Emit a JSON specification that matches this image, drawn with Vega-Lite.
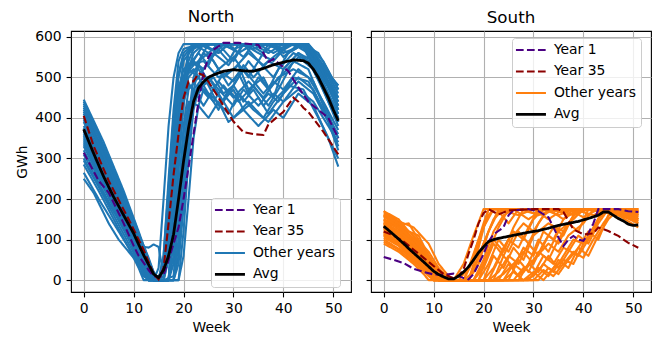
{
"$schema": "https://vega.github.io/schema/vega-lite/v6.json",
"padding": {"left": 15, "top": 8, "right": 4, "bottom": 4},
"config": {
  "font": "DejaVu Sans",
  "view": {"stroke": "black", "strokeWidth": 1.1},
  "axis": {"grid": true, "gridColor": "#b0b0b0", "gridWidth": 1.1, "domain": false, "tickColor": "black", "tickSize": 4.9, "tickWidth": 1.1, "labelFontSize": 13.9, "labelColor": "black", "labelPadding": 4.9, "titleFontSize": 13.9, "titleFontWeight": "normal", "titleColor": "black", "titlePadding": 5},
  "title": {"fontSize": 16.7, "fontWeight": "normal", "color": "black", "offset": 4.5},
  "legend": {"fillColor": "rgba(255,255,255,0.8)", "strokeColor": "#cccccc", "cornerRadius": 3, "padding": 5, "labelFontSize": 13.9, "labelColor": "black", "symbolSize": 900, "labelOffset": 16, "symbolOffset": 7, "rowPadding": 6.5}
},
"datasets": {
"north": [
{"s":"O","y":2,"w":0,"v":445},{"s":"O","y":2,"w":4,"v":340},{"s":"O","y":2,"w":8,"v":220},{"s":"O","y":2,"w":11,"v":120},{"s":"O","y":2,"w":13,"v":50},{"s":"O","y":2,"w":14,"v":15},{"s":"O","y":2,"w":15,"v":0},{"s":"O","y":2,"w":17,"v":0},{"s":"O","y":2,"w":18,"v":120},{"s":"O","y":2,"w":19,"v":300},{"s":"O","y":2,"w":20,"v":480},{"s":"O","y":2,"w":21,"v":560},{"s":"O","y":2,"w":22,"v":582},{"s":"O","y":2,"w":30,"v":582},{"s":"O","y":2,"w":36,"v":580},{"s":"O","y":2,"w":42,"v":582},{"s":"O","y":2,"w":45,"v":578},{"s":"O","y":2,"w":48,"v":520},{"s":"O","y":2,"w":51,"v":480},
{"s":"O","y":3,"w":0,"v":430},{"s":"O","y":3,"w":3,"v":355},{"s":"O","y":3,"w":7,"v":240},{"s":"O","y":3,"w":10,"v":150},{"s":"O","y":3,"w":12,"v":80},{"s":"O","y":3,"w":14,"v":20},{"s":"O","y":3,"w":15,"v":0},{"s":"O","y":3,"w":16,"v":60},{"s":"O","y":3,"w":17,"v":250},{"s":"O","y":3,"w":18,"v":420},{"s":"O","y":3,"w":19,"v":540},{"s":"O","y":3,"w":20,"v":570},{"s":"O","y":3,"w":23,"v":582},{"s":"O","y":3,"w":27,"v":560},{"s":"O","y":3,"w":29,"v":582},{"s":"O","y":3,"w":35,"v":582},{"s":"O","y":3,"w":38,"v":560},{"s":"O","y":3,"w":41,"v":582},{"s":"O","y":3,"w":45,"v":570},{"s":"O","y":3,"w":48,"v":500},{"s":"O","y":3,"w":51,"v":430},
{"s":"O","y":4,"w":0,"v":420},{"s":"O","y":4,"w":5,"v":290},{"s":"O","y":4,"w":9,"v":170},{"s":"O","y":4,"w":12,"v":70},{"s":"O","y":4,"w":14,"v":10},{"s":"O","y":4,"w":15,"v":0},{"s":"O","y":4,"w":18,"v":0},{"s":"O","y":4,"w":19,"v":90},{"s":"O","y":4,"w":20,"v":250},{"s":"O","y":4,"w":21,"v":400},{"s":"O","y":4,"w":22,"v":500},{"s":"O","y":4,"w":24,"v":560},{"s":"O","y":4,"w":26,"v":540},{"s":"O","y":4,"w":28,"v":500},{"s":"O","y":4,"w":31,"v":530},{"s":"O","y":4,"w":33,"v":470},{"s":"O","y":4,"w":36,"v":500},{"s":"O","y":4,"w":38,"v":450},{"s":"O","y":4,"w":40,"v":520},{"s":"O","y":4,"w":43,"v":560},{"s":"O","y":4,"w":46,"v":540},{"s":"O","y":4,"w":49,"v":460},{"s":"O","y":4,"w":51,"v":400},
{"s":"O","y":5,"w":0,"v":410},{"s":"O","y":5,"w":4,"v":300},{"s":"O","y":5,"w":8,"v":180},{"s":"O","y":5,"w":11,"v":90},{"s":"O","y":5,"w":13,"v":30},{"s":"O","y":5,"w":14,"v":0},{"s":"O","y":5,"w":16,"v":0},{"s":"O","y":5,"w":17,"v":150},{"s":"O","y":5,"w":18,"v":330},{"s":"O","y":5,"w":19,"v":470},{"s":"O","y":5,"w":20,"v":520},{"s":"O","y":5,"w":22,"v":540},{"s":"O","y":5,"w":25,"v":480},{"s":"O","y":5,"w":27,"v":430},{"s":"O","y":5,"w":30,"v":470},{"s":"O","y":5,"w":32,"v":420},{"s":"O","y":5,"w":35,"v":450},{"s":"O","y":5,"w":37,"v":410},{"s":"O","y":5,"w":40,"v":460},{"s":"O","y":5,"w":43,"v":500},{"s":"O","y":5,"w":46,"v":470},{"s":"O","y":5,"w":48,"v":420},{"s":"O","y":5,"w":51,"v":360},
{"s":"O","y":6,"w":0,"v":395},{"s":"O","y":6,"w":3,"v":320},{"s":"O","y":6,"w":7,"v":210},{"s":"O","y":6,"w":10,"v":120},{"s":"O","y":6,"w":11,"v":85},{"s":"O","y":6,"w":13,"v":80},{"s":"O","y":6,"w":14,"v":88},{"s":"O","y":6,"w":15,"v":82},{"s":"O","y":6,"w":16,"v":10},{"s":"O","y":6,"w":17,"v":90},{"s":"O","y":6,"w":18,"v":280},{"s":"O","y":6,"w":19,"v":450},{"s":"O","y":6,"w":20,"v":540},{"s":"O","y":6,"w":22,"v":575},{"s":"O","y":6,"w":26,"v":582},{"s":"O","y":6,"w":33,"v":582},{"s":"O","y":6,"w":37,"v":582},{"s":"O","y":6,"w":40,"v":560},{"s":"O","y":6,"w":44,"v":580},{"s":"O","y":6,"w":47,"v":530},{"s":"O","y":6,"w":51,"v":450},
{"s":"O","y":7,"w":0,"v":380},{"s":"O","y":7,"w":4,"v":280},{"s":"O","y":7,"w":8,"v":170},{"s":"O","y":7,"w":11,"v":90},{"s":"O","y":7,"w":13,"v":40},{"s":"O","y":7,"w":15,"v":0},{"s":"O","y":7,"w":17,"v":0},{"s":"O","y":7,"w":18,"v":40},{"s":"O","y":7,"w":19,"v":200},{"s":"O","y":7,"w":20,"v":380},{"s":"O","y":7,"w":21,"v":470},{"s":"O","y":7,"w":23,"v":500},{"s":"O","y":7,"w":25,"v":460},{"s":"O","y":7,"w":27,"v":420},{"s":"O","y":7,"w":29,"v":470},{"s":"O","y":7,"w":31,"v":440},{"s":"O","y":7,"w":34,"v":480},{"s":"O","y":7,"w":37,"v":430},{"s":"O","y":7,"w":39,"v":470},{"s":"O","y":7,"w":42,"v":540},{"s":"O","y":7,"w":45,"v":520},{"s":"O","y":7,"w":48,"v":430},{"s":"O","y":7,"w":51,"v":330},
{"s":"O","y":8,"w":0,"v":365},{"s":"O","y":8,"w":3,"v":300},{"s":"O","y":8,"w":6,"v":220},{"s":"O","y":8,"w":9,"v":130},{"s":"O","y":8,"w":12,"v":40},{"s":"O","y":8,"w":13,"v":10},{"s":"O","y":8,"w":15,"v":0},{"s":"O","y":8,"w":19,"v":0},{"s":"O","y":8,"w":20,"v":120},{"s":"O","y":8,"w":21,"v":300},{"s":"O","y":8,"w":22,"v":420},{"s":"O","y":8,"w":23,"v":470},{"s":"O","y":8,"w":25,"v":500},{"s":"O","y":8,"w":28,"v":440},{"s":"O","y":8,"w":30,"v":400},{"s":"O","y":8,"w":33,"v":440},{"s":"O","y":8,"w":36,"v":400},{"s":"O","y":8,"w":38,"v":440},{"s":"O","y":8,"w":41,"v":480},{"s":"O","y":8,"w":44,"v":470},{"s":"O","y":8,"w":47,"v":400},{"s":"O","y":8,"w":51,"v":300},
{"s":"O","y":9,"w":0,"v":350},{"s":"O","y":9,"w":4,"v":250},{"s":"O","y":9,"w":8,"v":150},{"s":"O","y":9,"w":11,"v":60},{"s":"O","y":9,"w":13,"v":10},{"s":"O","y":9,"w":14,"v":0},{"s":"O","y":9,"w":16,"v":20},{"s":"O","y":9,"w":17,"v":200},{"s":"O","y":9,"w":18,"v":380},{"s":"O","y":9,"w":19,"v":480},{"s":"O","y":9,"w":21,"v":520},{"s":"O","y":9,"w":24,"v":582},{"s":"O","y":9,"w":28,"v":582},{"s":"O","y":9,"w":31,"v":560},{"s":"O","y":9,"w":34,"v":582},{"s":"O","y":9,"w":40,"v":582},{"s":"O","y":9,"w":45,"v":582},{"s":"O","y":9,"w":48,"v":540},{"s":"O","y":9,"w":51,"v":470},
{"s":"O","y":10,"w":0,"v":340},{"s":"O","y":10,"w":4,"v":240},{"s":"O","y":10,"w":8,"v":140},{"s":"O","y":10,"w":11,"v":50},{"s":"O","y":10,"w":13,"v":0},{"s":"O","y":10,"w":15,"v":0},{"s":"O","y":10,"w":16,"v":10},{"s":"O","y":10,"w":17,"v":120},{"s":"O","y":10,"w":18,"v":290},{"s":"O","y":10,"w":19,"v":420},{"s":"O","y":10,"w":20,"v":500},{"s":"O","y":10,"w":22,"v":530},{"s":"O","y":10,"w":25,"v":560},{"s":"O","y":10,"w":27,"v":520},{"s":"O","y":10,"w":30,"v":550},{"s":"O","y":10,"w":33,"v":500},{"s":"O","y":10,"w":35,"v":540},{"s":"O","y":10,"w":38,"v":500},{"s":"O","y":10,"w":41,"v":560},{"s":"O","y":10,"w":44,"v":582},{"s":"O","y":10,"w":47,"v":540},{"s":"O","y":10,"w":51,"v":440},
{"s":"O","y":11,"w":0,"v":330},{"s":"O","y":11,"w":3,"v":260},{"s":"O","y":11,"w":7,"v":160},{"s":"O","y":11,"w":10,"v":90},{"s":"O","y":11,"w":12,"v":40},{"s":"O","y":11,"w":13,"v":0},{"s":"O","y":11,"w":16,"v":0},{"s":"O","y":11,"w":18,"v":10},{"s":"O","y":11,"w":19,"v":150},{"s":"O","y":11,"w":20,"v":320},{"s":"O","y":11,"w":21,"v":430},{"s":"O","y":11,"w":23,"v":480},{"s":"O","y":11,"w":26,"v":450},{"s":"O","y":11,"w":29,"v":410},{"s":"O","y":11,"w":31,"v":460},{"s":"O","y":11,"w":34,"v":420},{"s":"O","y":11,"w":37,"v":390},{"s":"O","y":11,"w":40,"v":440},{"s":"O","y":11,"w":43,"v":470},{"s":"O","y":11,"w":46,"v":440},{"s":"O","y":11,"w":49,"v":380},{"s":"O","y":11,"w":51,"v":340},
{"s":"O","y":12,"w":0,"v":310},{"s":"O","y":12,"w":3,"v":240},{"s":"O","y":12,"w":6,"v":170},{"s":"O","y":12,"w":9,"v":100},{"s":"O","y":12,"w":11,"v":50},{"s":"O","y":12,"w":12,"v":10},{"s":"O","y":12,"w":13,"v":0},{"s":"O","y":12,"w":15,"v":0},{"s":"O","y":12,"w":16,"v":60},{"s":"O","y":12,"w":17,"v":230},{"s":"O","y":12,"w":18,"v":400},{"s":"O","y":12,"w":19,"v":510},{"s":"O","y":12,"w":20,"v":560},{"s":"O","y":12,"w":22,"v":582},{"s":"O","y":12,"w":27,"v":582},{"s":"O","y":12,"w":30,"v":570},{"s":"O","y":12,"w":33,"v":582},{"s":"O","y":12,"w":43,"v":582},{"s":"O","y":12,"w":46,"v":560},{"s":"O","y":12,"w":49,"v":500},{"s":"O","y":12,"w":51,"v":450},
{"s":"O","y":13,"w":0,"v":300},{"s":"O","y":13,"w":4,"v":210},{"s":"O","y":13,"w":8,"v":130},{"s":"O","y":13,"w":10,"v":80},{"s":"O","y":13,"w":12,"v":30},{"s":"O","y":13,"w":13,"v":0},{"s":"O","y":13,"w":17,"v":0},{"s":"O","y":13,"w":18,"v":60},{"s":"O","y":13,"w":19,"v":220},{"s":"O","y":13,"w":20,"v":360},{"s":"O","y":13,"w":21,"v":440},{"s":"O","y":13,"w":23,"v":430},{"s":"O","y":13,"w":25,"v":400},{"s":"O","y":13,"w":27,"v":440},{"s":"O","y":13,"w":29,"v":390},{"s":"O","y":13,"w":32,"v":420},{"s":"O","y":13,"w":35,"v":380},{"s":"O","y":13,"w":38,"v":420},{"s":"O","y":13,"w":40,"v":400},{"s":"O","y":13,"w":43,"v":460},{"s":"O","y":13,"w":46,"v":430},{"s":"O","y":13,"w":49,"v":350},{"s":"O","y":13,"w":51,"v":280},
{"s":"O","y":14,"w":0,"v":285},{"s":"O","y":14,"w":3,"v":220},{"s":"O","y":14,"w":6,"v":150},{"s":"O","y":14,"w":9,"v":80},{"s":"O","y":14,"w":11,"v":30},{"s":"O","y":14,"w":12,"v":0},{"s":"O","y":14,"w":15,"v":0},{"s":"O","y":14,"w":16,"v":40},{"s":"O","y":14,"w":17,"v":180},{"s":"O","y":14,"w":18,"v":340},{"s":"O","y":14,"w":19,"v":450},{"s":"O","y":14,"w":21,"v":530},{"s":"O","y":14,"w":24,"v":540},{"s":"O","y":14,"w":27,"v":500},{"s":"O","y":14,"w":30,"v":520},{"s":"O","y":14,"w":33,"v":560},{"s":"O","y":14,"w":36,"v":530},{"s":"O","y":14,"w":39,"v":560},{"s":"O","y":14,"w":42,"v":582},{"s":"O","y":14,"w":45,"v":575},{"s":"O","y":14,"w":48,"v":500},{"s":"O","y":14,"w":51,"v":420},
{"s":"O","y":15,"w":0,"v":265},{"s":"O","y":15,"w":3,"v":200},{"s":"O","y":15,"w":6,"v":140},{"s":"O","y":15,"w":8,"v":100},{"s":"O","y":15,"w":10,"v":60},{"s":"O","y":15,"w":12,"v":20},{"s":"O","y":15,"w":13,"v":0},{"s":"O","y":15,"w":19,"v":0},{"s":"O","y":15,"w":20,"v":60},{"s":"O","y":15,"w":21,"v":200},{"s":"O","y":15,"w":22,"v":350},{"s":"O","y":15,"w":23,"v":430},{"s":"O","y":15,"w":24,"v":470},{"s":"O","y":15,"w":26,"v":440},{"s":"O","y":15,"w":28,"v":480},{"s":"O","y":15,"w":30,"v":450},{"s":"O","y":15,"w":33,"v":490},{"s":"O","y":15,"w":36,"v":450},{"s":"O","y":15,"w":39,"v":500},{"s":"O","y":15,"w":42,"v":520},{"s":"O","y":15,"w":45,"v":500},{"s":"O","y":15,"w":48,"v":440},{"s":"O","y":15,"w":51,"v":370},
{"s":"O","y":16,"w":0,"v":250},{"s":"O","y":16,"w":2,"v":215},{"s":"O","y":16,"w":5,"v":140},{"s":"O","y":16,"w":7,"v":100},{"s":"O","y":16,"w":9,"v":70},{"s":"O","y":16,"w":11,"v":40},{"s":"O","y":16,"w":12,"v":10},{"s":"O","y":16,"w":14,"v":0},{"s":"O","y":16,"w":16,"v":0},{"s":"O","y":16,"w":17,"v":100},{"s":"O","y":16,"w":18,"v":250},{"s":"O","y":16,"w":19,"v":400},{"s":"O","y":16,"w":20,"v":500},{"s":"O","y":16,"w":21,"v":560},{"s":"O","y":16,"w":23,"v":582},{"s":"O","y":16,"w":31,"v":582},{"s":"O","y":16,"w":34,"v":570},{"s":"O","y":16,"w":37,"v":582},{"s":"O","y":16,"w":45,"v":582},{"s":"O","y":16,"w":48,"v":530},{"s":"O","y":16,"w":51,"v":460},
{"s":"O","y":17,"w":0,"v":440},{"s":"O","y":17,"w":4,"v":330},{"s":"O","y":17,"w":8,"v":210},{"s":"O","y":17,"w":11,"v":110},{"s":"O","y":17,"w":13,"v":50},{"s":"O","y":17,"w":14,"v":10},{"s":"O","y":17,"w":15,"v":0},{"s":"O","y":17,"w":16,"v":0},{"s":"O","y":17,"w":17,"v":80},{"s":"O","y":17,"w":18,"v":260},{"s":"O","y":17,"w":19,"v":420},{"s":"O","y":17,"w":20,"v":500},{"s":"O","y":17,"w":22,"v":540},{"s":"O","y":17,"w":24,"v":520},{"s":"O","y":17,"w":26,"v":560},{"s":"O","y":17,"w":29,"v":530},{"s":"O","y":17,"w":32,"v":582},{"s":"O","y":17,"w":35,"v":560},{"s":"O","y":17,"w":38,"v":540},{"s":"O","y":17,"w":41,"v":582},{"s":"O","y":17,"w":44,"v":582},{"s":"O","y":17,"w":47,"v":540},{"s":"O","y":17,"w":51,"v":480},
{"s":"O","y":18,"w":0,"v":400},{"s":"O","y":18,"w":4,"v":290},{"s":"O","y":18,"w":8,"v":180},{"s":"O","y":18,"w":11,"v":100},{"s":"O","y":18,"w":13,"v":40},{"s":"O","y":18,"w":14,"v":0},{"s":"O","y":18,"w":17,"v":0},{"s":"O","y":18,"w":18,"v":180},{"s":"O","y":18,"w":19,"v":360},{"s":"O","y":18,"w":20,"v":470},{"s":"O","y":18,"w":21,"v":520},{"s":"O","y":18,"w":23,"v":500},{"s":"O","y":18,"w":25,"v":540},{"s":"O","y":18,"w":28,"v":582},{"s":"O","y":18,"w":32,"v":582},{"s":"O","y":18,"w":35,"v":540},{"s":"O","y":18,"w":37,"v":582},{"s":"O","y":18,"w":44,"v":582},{"s":"O","y":18,"w":47,"v":510},{"s":"O","y":18,"w":51,"v":410},
{"s":"O","y":19,"w":0,"v":355},{"s":"O","y":19,"w":3,"v":280},{"s":"O","y":19,"w":7,"v":170},{"s":"O","y":19,"w":10,"v":90},{"s":"O","y":19,"w":12,"v":30},{"s":"O","y":19,"w":13,"v":0},{"s":"O","y":19,"w":14,"v":0},{"s":"O","y":19,"w":15,"v":30},{"s":"O","y":19,"w":16,"v":200},{"s":"O","y":19,"w":17,"v":380},{"s":"O","y":19,"w":18,"v":500},{"s":"O","y":19,"w":19,"v":560},{"s":"O","y":19,"w":20,"v":582},{"s":"O","y":19,"w":26,"v":582},{"s":"O","y":19,"w":29,"v":540},{"s":"O","y":19,"w":31,"v":582},{"s":"O","y":19,"w":38,"v":582},{"s":"O","y":19,"w":40,"v":550},{"s":"O","y":19,"w":43,"v":582},{"s":"O","y":19,"w":46,"v":560},{"s":"O","y":19,"w":49,"v":480},{"s":"O","y":19,"w":51,"v":420},
{"s":"O","y":20,"w":0,"v":425},{"s":"O","y":20,"w":4,"v":315},{"s":"O","y":20,"w":8,"v":200},{"s":"O","y":20,"w":11,"v":105},{"s":"O","y":20,"w":13,"v":45},{"s":"O","y":20,"w":14,"v":12},{"s":"O","y":20,"w":15,"v":0},{"s":"O","y":20,"w":17,"v":0},{"s":"O","y":20,"w":18,"v":150},{"s":"O","y":20,"w":19,"v":330},{"s":"O","y":20,"w":20,"v":460},{"s":"O","y":20,"w":21,"v":500},{"s":"O","y":20,"w":23,"v":530},{"s":"O","y":20,"w":25,"v":490},{"s":"O","y":20,"w":27,"v":520},{"s":"O","y":20,"w":29,"v":480},{"s":"O","y":20,"w":31,"v":510},{"s":"O","y":20,"w":33,"v":460},{"s":"O","y":20,"w":35,"v":500},{"s":"O","y":20,"w":37,"v":470},{"s":"O","y":20,"w":40,"v":510},{"s":"O","y":20,"w":43,"v":550},{"s":"O","y":20,"w":46,"v":520},{"s":"O","y":20,"w":49,"v":440},{"s":"O","y":20,"w":51,"v":390},
{"s":"O","y":21,"w":0,"v":415},{"s":"O","y":21,"w":3,"v":335},{"s":"O","y":21,"w":7,"v":220},{"s":"O","y":21,"w":10,"v":130},{"s":"O","y":21,"w":12,"v":70},{"s":"O","y":21,"w":14,"v":15},{"s":"O","y":21,"w":15,"v":0},{"s":"O","y":21,"w":16,"v":30},{"s":"O","y":21,"w":17,"v":210},{"s":"O","y":21,"w":18,"v":390},{"s":"O","y":21,"w":19,"v":500},{"s":"O","y":21,"w":20,"v":550},{"s":"O","y":21,"w":22,"v":582},{"s":"O","y":21,"w":25,"v":560},{"s":"O","y":21,"w":27,"v":582},{"s":"O","y":21,"w":30,"v":540},{"s":"O","y":21,"w":32,"v":582},{"s":"O","y":21,"w":36,"v":582},{"s":"O","y":21,"w":39,"v":570},{"s":"O","y":21,"w":42,"v":582},{"s":"O","y":21,"w":45,"v":560},{"s":"O","y":21,"w":48,"v":490},{"s":"O","y":21,"w":51,"v":390},
{"s":"O","y":22,"w":0,"v":390},{"s":"O","y":22,"w":4,"v":285},{"s":"O","y":22,"w":8,"v":175},{"s":"O","y":22,"w":11,"v":95},{"s":"O","y":22,"w":13,"v":35},{"s":"O","y":22,"w":14,"v":0},{"s":"O","y":22,"w":18,"v":0},{"s":"O","y":22,"w":19,"v":60},{"s":"O","y":22,"w":20,"v":200},{"s":"O","y":22,"w":21,"v":350},{"s":"O","y":22,"w":22,"v":450},{"s":"O","y":22,"w":23,"v":480},{"s":"O","y":22,"w":25,"v":450},{"s":"O","y":22,"w":27,"v":490},{"s":"O","y":22,"w":29,"v":460},{"s":"O","y":22,"w":31,"v":500},{"s":"O","y":22,"w":33,"v":540},{"s":"O","y":22,"w":35,"v":510},{"s":"O","y":22,"w":37,"v":470},{"s":"O","y":22,"w":39,"v":520},{"s":"O","y":22,"w":42,"v":560},{"s":"O","y":22,"w":45,"v":540},{"s":"O","y":22,"w":48,"v":470},{"s":"O","y":22,"w":51,"v":380},
{"s":"O","y":23,"w":0,"v":375},{"s":"O","y":23,"w":3,"v":300},{"s":"O","y":23,"w":6,"v":225},{"s":"O","y":23,"w":9,"v":140},{"s":"O","y":23,"w":11,"v":80},{"s":"O","y":23,"w":13,"v":20},{"s":"O","y":23,"w":14,"v":0},{"s":"O","y":23,"w":17,"v":0},{"s":"O","y":23,"w":18,"v":90},{"s":"O","y":23,"w":19,"v":270},{"s":"O","y":23,"w":20,"v":430},{"s":"O","y":23,"w":21,"v":520},{"s":"O","y":23,"w":22,"v":560},{"s":"O","y":23,"w":24,"v":582},{"s":"O","y":23,"w":29,"v":582},{"s":"O","y":23,"w":32,"v":550},{"s":"O","y":23,"w":34,"v":582},{"s":"O","y":23,"w":41,"v":582},{"s":"O","y":23,"w":44,"v":575},{"s":"O","y":23,"w":47,"v":500},{"s":"O","y":23,"w":51,"v":410},
{"s":"O","y":24,"w":0,"v":360},{"s":"O","y":24,"w":4,"v":260},{"s":"O","y":24,"w":8,"v":160},{"s":"O","y":24,"w":11,"v":70},{"s":"O","y":24,"w":13,"v":15},{"s":"O","y":24,"w":14,"v":0},{"s":"O","y":24,"w":16,"v":0},{"s":"O","y":24,"w":17,"v":170},{"s":"O","y":24,"w":18,"v":350},{"s":"O","y":24,"w":19,"v":460},{"s":"O","y":24,"w":20,"v":500},{"s":"O","y":24,"w":22,"v":470},{"s":"O","y":24,"w":24,"v":430},{"s":"O","y":24,"w":26,"v":470},{"s":"O","y":24,"w":28,"v":440},{"s":"O","y":24,"w":30,"v":480},{"s":"O","y":24,"w":32,"v":520},{"s":"O","y":24,"w":34,"v":490},{"s":"O","y":24,"w":36,"v":460},{"s":"O","y":24,"w":38,"v":490},{"s":"O","y":24,"w":40,"v":470},{"s":"O","y":24,"w":43,"v":520},{"s":"O","y":24,"w":46,"v":490},{"s":"O","y":24,"w":49,"v":410},{"s":"O","y":24,"w":51,"v":350},
{"s":"O","y":25,"w":0,"v":345},{"s":"O","y":25,"w":3,"v":270},{"s":"O","y":25,"w":6,"v":200},{"s":"O","y":25,"w":9,"v":120},{"s":"O","y":25,"w":11,"v":65},{"s":"O","y":25,"w":12,"v":35},{"s":"O","y":25,"w":13,"v":0},{"s":"O","y":25,"w":16,"v":0},{"s":"O","y":25,"w":17,"v":50},{"s":"O","y":25,"w":18,"v":220},{"s":"O","y":25,"w":19,"v":390},{"s":"O","y":25,"w":20,"v":480},{"s":"O","y":25,"w":21,"v":530},{"s":"O","y":25,"w":23,"v":560},{"s":"O","y":25,"w":25,"v":530},{"s":"O","y":25,"w":27,"v":582},{"s":"O","y":25,"w":33,"v":582},{"s":"O","y":25,"w":36,"v":560},{"s":"O","y":25,"w":38,"v":582},{"s":"O","y":25,"w":44,"v":582},{"s":"O","y":25,"w":47,"v":560},{"s":"O","y":25,"w":51,"v":470},
{"s":"O","y":26,"w":0,"v":320},{"s":"O","y":26,"w":3,"v":250},{"s":"O","y":26,"w":6,"v":180},{"s":"O","y":26,"w":9,"v":110},{"s":"O","y":26,"w":11,"v":60},{"s":"O","y":26,"w":12,"v":30},{"s":"O","y":26,"w":13,"v":0},{"s":"O","y":26,"w":18,"v":0},{"s":"O","y":26,"w":19,"v":100},{"s":"O","y":26,"w":20,"v":260},{"s":"O","y":26,"w":21,"v":400},{"s":"O","y":26,"w":22,"v":470},{"s":"O","y":26,"w":24,"v":500},{"s":"O","y":26,"w":26,"v":470},{"s":"O","y":26,"w":28,"v":510},{"s":"O","y":26,"w":30,"v":490},{"s":"O","y":26,"w":32,"v":530},{"s":"O","y":26,"w":34,"v":500},{"s":"O","y":26,"w":37,"v":540},{"s":"O","y":26,"w":40,"v":520},{"s":"O","y":26,"w":43,"v":560},{"s":"O","y":26,"w":46,"v":530},{"s":"O","y":26,"w":49,"v":450},{"s":"O","y":26,"w":51,"v":400},
{"s":"O","y":27,"w":0,"v":295},{"s":"O","y":27,"w":3,"v":230},{"s":"O","y":27,"w":6,"v":160},{"s":"O","y":27,"w":9,"v":90},{"s":"O","y":27,"w":11,"v":45},{"s":"O","y":27,"w":12,"v":15},{"s":"O","y":27,"w":13,"v":0},{"s":"O","y":27,"w":16,"v":0},{"s":"O","y":27,"w":17,"v":140},{"s":"O","y":27,"w":18,"v":310},{"s":"O","y":27,"w":19,"v":440},{"s":"O","y":27,"w":20,"v":500},{"s":"O","y":27,"w":22,"v":520},{"s":"O","y":27,"w":24,"v":480},{"s":"O","y":27,"w":26,"v":500},{"s":"O","y":27,"w":28,"v":460},{"s":"O","y":27,"w":30,"v":480},{"s":"O","y":27,"w":32,"v":440},{"s":"O","y":27,"w":34,"v":470},{"s":"O","y":27,"w":36,"v":430},{"s":"O","y":27,"w":38,"v":460},{"s":"O","y":27,"w":40,"v":440},{"s":"O","y":27,"w":43,"v":490},{"s":"O","y":27,"w":46,"v":460},{"s":"O","y":27,"w":49,"v":390},{"s":"O","y":27,"w":51,"v":320},
{"s":"O","y":28,"w":0,"v":435},{"s":"O","y":28,"w":4,"v":325},{"s":"O","y":28,"w":8,"v":205},{"s":"O","y":28,"w":11,"v":115},{"s":"O","y":28,"w":13,"v":55},{"s":"O","y":28,"w":14,"v":20},{"s":"O","y":28,"w":15,"v":0},{"s":"O","y":28,"w":18,"v":0},{"s":"O","y":28,"w":19,"v":40},{"s":"O","y":28,"w":20,"v":180},{"s":"O","y":28,"w":21,"v":340},{"s":"O","y":28,"w":22,"v":460},{"s":"O","y":28,"w":23,"v":540},{"s":"O","y":28,"w":25,"v":582},{"s":"O","y":28,"w":38,"v":582},{"s":"O","y":28,"w":41,"v":560},{"s":"O","y":28,"w":44,"v":582},{"s":"O","y":28,"w":47,"v":520},{"s":"O","y":28,"w":51,"v":440},
{"s":"O","y":29,"w":0,"v":370},{"s":"O","y":29,"w":4,"v":265},{"s":"O","y":29,"w":8,"v":165},{"s":"O","y":29,"w":10,"v":120},{"s":"O","y":29,"w":12,"v":60},{"s":"O","y":29,"w":13,"v":25},{"s":"O","y":29,"w":14,"v":0},{"s":"O","y":29,"w":16,"v":0},{"s":"O","y":29,"w":17,"v":60},{"s":"O","y":29,"w":18,"v":200},{"s":"O","y":29,"w":19,"v":350},{"s":"O","y":29,"w":20,"v":440},{"s":"O","y":29,"w":21,"v":480},{"s":"O","y":29,"w":23,"v":460},{"s":"O","y":29,"w":25,"v":500},{"s":"O","y":29,"w":27,"v":470},{"s":"O","y":29,"w":30,"v":430},{"s":"O","y":29,"w":32,"v":470},{"s":"O","y":29,"w":35,"v":430},{"s":"O","y":29,"w":37,"v":460},{"s":"O","y":29,"w":39,"v":440},{"s":"O","y":29,"w":42,"v":500},{"s":"O","y":29,"w":45,"v":490},{"s":"O","y":29,"w":48,"v":420},{"s":"O","y":29,"w":51,"v":350},
{"s":"O","y":30,"w":0,"v":335},{"s":"O","y":30,"w":4,"v":230},{"s":"O","y":30,"w":8,"v":130},{"s":"O","y":30,"w":10,"v":90},{"s":"O","y":30,"w":12,"v":40},{"s":"O","y":30,"w":13,"v":10},{"s":"O","y":30,"w":14,"v":0},{"s":"O","y":30,"w":17,"v":0},{"s":"O","y":30,"w":18,"v":130},{"s":"O","y":30,"w":19,"v":320},{"s":"O","y":30,"w":20,"v":470},{"s":"O","y":30,"w":21,"v":540},{"s":"O","y":30,"w":22,"v":570},{"s":"O","y":30,"w":24,"v":582},{"s":"O","y":30,"w":27,"v":560},{"s":"O","y":30,"w":29,"v":582},{"s":"O","y":30,"w":34,"v":582},{"s":"O","y":30,"w":37,"v":560},{"s":"O","y":30,"w":40,"v":582},{"s":"O","y":30,"w":45,"v":582},{"s":"O","y":30,"w":48,"v":510},{"s":"O","y":30,"w":51,"v":430},
{"s":"Y1","y":1,"w":0,"v":314},{"s":"Y1","y":1,"w":3,"v":245},{"s":"Y1","y":1,"w":5,"v":216},{"s":"Y1","y":1,"w":8,"v":140},{"s":"Y1","y":1,"w":10,"v":85},{"s":"Y1","y":1,"w":11,"v":60},{"s":"Y1","y":1,"w":13,"v":25},{"s":"Y1","y":1,"w":14,"v":10},{"s":"Y1","y":1,"w":15,"v":8},{"s":"Y1","y":1,"w":16,"v":12},{"s":"Y1","y":1,"w":17,"v":50},{"s":"Y1","y":1,"w":18,"v":90},{"s":"Y1","y":1,"w":19,"v":130},{"s":"Y1","y":1,"w":20,"v":200},{"s":"Y1","y":1,"w":21,"v":278},{"s":"Y1","y":1,"w":22,"v":360},{"s":"Y1","y":1,"w":23,"v":440},{"s":"Y1","y":1,"w":24,"v":510},{"s":"Y1","y":1,"w":25,"v":550},{"s":"Y1","y":1,"w":26,"v":568},{"s":"Y1","y":1,"w":28,"v":585},{"s":"Y1","y":1,"w":31,"v":585},{"s":"Y1","y":1,"w":35,"v":580},{"s":"Y1","y":1,"w":36,"v":560},{"s":"Y1","y":1,"w":37,"v":538},{"s":"Y1","y":1,"w":38,"v":545},{"s":"Y1","y":1,"w":39,"v":535},{"s":"Y1","y":1,"w":40,"v":525},{"s":"Y1","y":1,"w":41,"v":515},{"s":"Y1","y":1,"w":42,"v":495},{"s":"Y1","y":1,"w":43,"v":475},{"s":"Y1","y":1,"w":44,"v":458},{"s":"Y1","y":1,"w":45,"v":440},{"s":"Y1","y":1,"w":47,"v":420},{"s":"Y1","y":1,"w":49,"v":400},{"s":"Y1","y":1,"w":51,"v":350},
{"s":"Y35","y":35,"w":0,"v":405},{"s":"Y35","y":35,"w":2,"v":330},{"s":"Y35","y":35,"w":5,"v":245},{"s":"Y35","y":35,"w":9,"v":150},{"s":"Y35","y":35,"w":12,"v":75},{"s":"Y35","y":35,"w":13,"v":45},{"s":"Y35","y":35,"w":14,"v":15},{"s":"Y35","y":35,"w":15,"v":2},{"s":"Y35","y":35,"w":16,"v":30},{"s":"Y35","y":35,"w":17,"v":140},{"s":"Y35","y":35,"w":18,"v":260},{"s":"Y35","y":35,"w":19,"v":360},{"s":"Y35","y":35,"w":20,"v":450},{"s":"Y35","y":35,"w":21,"v":490},{"s":"Y35","y":35,"w":22,"v":490},{"s":"Y35","y":35,"w":23,"v":510},{"s":"Y35","y":35,"w":24,"v":505},{"s":"Y35","y":35,"w":25,"v":489},{"s":"Y35","y":35,"w":27,"v":450},{"s":"Y35","y":35,"w":30,"v":391},{"s":"Y35","y":35,"w":32,"v":365},{"s":"Y35","y":35,"w":34,"v":360},{"s":"Y35","y":35,"w":36,"v":358},{"s":"Y35","y":35,"w":37,"v":384},{"s":"Y35","y":35,"w":40,"v":415},{"s":"Y35","y":35,"w":42,"v":450},{"s":"Y35","y":35,"w":43,"v":440},{"s":"Y35","y":35,"w":44,"v":425},{"s":"Y35","y":35,"w":45,"v":415},{"s":"Y35","y":35,"w":48,"v":366},{"s":"Y35","y":35,"w":51,"v":310},
{"s":"A","y":0,"w":0,"v":372},{"s":"A","y":0,"w":2,"v":312},{"s":"A","y":0,"w":4,"v":255},{"s":"A","y":0,"w":6,"v":205},{"s":"A","y":0,"w":8,"v":160},{"s":"A","y":0,"w":10,"v":115},{"s":"A","y":0,"w":11,"v":88},{"s":"A","y":0,"w":12,"v":62},{"s":"A","y":0,"w":13,"v":38},{"s":"A","y":0,"w":14,"v":15},{"s":"A","y":0,"w":15,"v":6},{"s":"A","y":0,"w":16,"v":25},{"s":"A","y":0,"w":17,"v":60},{"s":"A","y":0,"w":18,"v":113},{"s":"A","y":0,"w":19,"v":200},{"s":"A","y":0,"w":20,"v":293},{"s":"A","y":0,"w":21,"v":375},{"s":"A","y":0,"w":22,"v":440},{"s":"A","y":0,"w":23,"v":474},{"s":"A","y":0,"w":24,"v":489},{"s":"A","y":0,"w":25,"v":500},{"s":"A","y":0,"w":26,"v":506},{"s":"A","y":0,"w":28,"v":515},{"s":"A","y":0,"w":30,"v":519},{"s":"A","y":0,"w":32,"v":516},{"s":"A","y":0,"w":34,"v":515},{"s":"A","y":0,"w":36,"v":522},{"s":"A","y":0,"w":38,"v":531},{"s":"A","y":0,"w":40,"v":537},{"s":"A","y":0,"w":42,"v":543},{"s":"A","y":0,"w":44,"v":541},{"s":"A","y":0,"w":45,"v":535},{"s":"A","y":0,"w":46,"v":520},{"s":"A","y":0,"w":47,"v":500},{"s":"A","y":0,"w":48,"v":475},{"s":"A","y":0,"w":49,"v":450},{"s":"A","y":0,"w":50,"v":420},{"s":"A","y":0,"w":51,"v":393}
],
"south": [
{"s":"O","y":2,"w":0,"v":170},{"s":"O","y":2,"w":3,"v":140},{"s":"O","y":2,"w":6,"v":100},{"s":"O","y":2,"w":8,"v":60},{"s":"O","y":2,"w":10,"v":20},{"s":"O","y":2,"w":11,"v":0},{"s":"O","y":2,"w":16,"v":0},{"s":"O","y":2,"w":18,"v":60},{"s":"O","y":2,"w":20,"v":140},{"s":"O","y":2,"w":21,"v":175},{"s":"O","y":2,"w":30,"v":175},{"s":"O","y":2,"w":40,"v":175},{"s":"O","y":2,"w":46,"v":175},{"s":"O","y":2,"w":49,"v":165},{"s":"O","y":2,"w":51,"v":150},
{"s":"O","y":3,"w":0,"v":160},{"s":"O","y":3,"w":2,"v":150},{"s":"O","y":3,"w":4,"v":120},{"s":"O","y":3,"w":7,"v":90},{"s":"O","y":3,"w":9,"v":50},{"s":"O","y":3,"w":11,"v":10},{"s":"O","y":3,"w":12,"v":0},{"s":"O","y":3,"w":17,"v":0},{"s":"O","y":3,"w":19,"v":40},{"s":"O","y":3,"w":21,"v":120},{"s":"O","y":3,"w":23,"v":175},{"s":"O","y":3,"w":27,"v":160},{"s":"O","y":3,"w":30,"v":175},{"s":"O","y":3,"w":35,"v":170},{"s":"O","y":3,"w":40,"v":175},{"s":"O","y":3,"w":45,"v":175},{"s":"O","y":3,"w":51,"v":160},
{"s":"O","y":4,"w":0,"v":150},{"s":"O","y":4,"w":3,"v":130},{"s":"O","y":4,"w":6,"v":85},{"s":"O","y":4,"w":9,"v":40},{"s":"O","y":4,"w":11,"v":5},{"s":"O","y":4,"w":12,"v":0},{"s":"O","y":4,"w":20,"v":0},{"s":"O","y":4,"w":22,"v":30},{"s":"O","y":4,"w":24,"v":80},{"s":"O","y":4,"w":26,"v":120},{"s":"O","y":4,"w":28,"v":100},{"s":"O","y":4,"w":30,"v":150},{"s":"O","y":4,"w":32,"v":175},{"s":"O","y":4,"w":38,"v":175},{"s":"O","y":4,"w":42,"v":160},{"s":"O","y":4,"w":45,"v":175},{"s":"O","y":4,"w":51,"v":140},
{"s":"O","y":5,"w":0,"v":145},{"s":"O","y":5,"w":4,"v":110},{"s":"O","y":5,"w":7,"v":70},{"s":"O","y":5,"w":10,"v":20},{"s":"O","y":5,"w":12,"v":0},{"s":"O","y":5,"w":24,"v":0},{"s":"O","y":5,"w":26,"v":20},{"s":"O","y":5,"w":28,"v":0},{"s":"O","y":5,"w":30,"v":10},{"s":"O","y":5,"w":32,"v":40},{"s":"O","y":5,"w":34,"v":20},{"s":"O","y":5,"w":36,"v":60},{"s":"O","y":5,"w":38,"v":100},{"s":"O","y":5,"w":40,"v":90},{"s":"O","y":5,"w":42,"v":130},{"s":"O","y":5,"w":44,"v":175},{"s":"O","y":5,"w":48,"v":175},{"s":"O","y":5,"w":51,"v":170},
{"s":"O","y":6,"w":0,"v":140},{"s":"O","y":6,"w":2,"v":120},{"s":"O","y":6,"w":5,"v":100},{"s":"O","y":6,"w":8,"v":60},{"s":"O","y":6,"w":10,"v":25},{"s":"O","y":6,"w":12,"v":5},{"s":"O","y":6,"w":13,"v":0},{"s":"O","y":6,"w":18,"v":0},{"s":"O","y":6,"w":20,"v":50},{"s":"O","y":6,"w":22,"v":120},{"s":"O","y":6,"w":24,"v":160},{"s":"O","y":6,"w":26,"v":175},{"s":"O","y":6,"w":33,"v":175},{"s":"O","y":6,"w":36,"v":150},{"s":"O","y":6,"w":39,"v":175},{"s":"O","y":6,"w":45,"v":175},{"s":"O","y":6,"w":51,"v":150},
{"s":"O","y":7,"w":0,"v":135},{"s":"O","y":7,"w":3,"v":110},{"s":"O","y":7,"w":6,"v":75},{"s":"O","y":7,"w":9,"v":30},{"s":"O","y":7,"w":11,"v":0},{"s":"O","y":7,"w":22,"v":0},{"s":"O","y":7,"w":24,"v":15},{"s":"O","y":7,"w":26,"v":40},{"s":"O","y":7,"w":28,"v":20},{"s":"O","y":7,"w":30,"v":50},{"s":"O","y":7,"w":33,"v":90},{"s":"O","y":7,"w":35,"v":70},{"s":"O","y":7,"w":37,"v":110},{"s":"O","y":7,"w":40,"v":140},{"s":"O","y":7,"w":42,"v":175},{"s":"O","y":7,"w":51,"v":165},
{"s":"O","y":8,"w":0,"v":130},{"s":"O","y":8,"w":4,"v":100},{"s":"O","y":8,"w":8,"v":50},{"s":"O","y":8,"w":10,"v":15},{"s":"O","y":8,"w":12,"v":0},{"s":"O","y":8,"w":15,"v":0},{"s":"O","y":8,"w":17,"v":30},{"s":"O","y":8,"w":19,"v":100},{"s":"O","y":8,"w":21,"v":160},{"s":"O","y":8,"w":22,"v":175},{"s":"O","y":8,"w":28,"v":175},{"s":"O","y":8,"w":31,"v":160},{"s":"O","y":8,"w":34,"v":175},{"s":"O","y":8,"w":44,"v":175},{"s":"O","y":8,"w":48,"v":175},{"s":"O","y":8,"w":51,"v":160},
{"s":"O","y":9,"w":0,"v":125},{"s":"O","y":9,"w":3,"v":100},{"s":"O","y":9,"w":6,"v":60},{"s":"O","y":9,"w":9,"v":20},{"s":"O","y":9,"w":11,"v":0},{"s":"O","y":9,"w":26,"v":0},{"s":"O","y":9,"w":28,"v":30},{"s":"O","y":9,"w":30,"v":15},{"s":"O","y":9,"w":32,"v":60},{"s":"O","y":9,"w":34,"v":40},{"s":"O","y":9,"w":36,"v":80},{"s":"O","y":9,"w":39,"v":60},{"s":"O","y":9,"w":41,"v":100},{"s":"O","y":9,"w":43,"v":150},{"s":"O","y":9,"w":45,"v":175},{"s":"O","y":9,"w":51,"v":175},
{"s":"O","y":10,"w":0,"v":120},{"s":"O","y":10,"w":4,"v":85},{"s":"O","y":10,"w":7,"v":50},{"s":"O","y":10,"w":10,"v":10},{"s":"O","y":10,"w":11,"v":0},{"s":"O","y":10,"w":19,"v":0},{"s":"O","y":10,"w":21,"v":40},{"s":"O","y":10,"w":23,"v":100},{"s":"O","y":10,"w":25,"v":70},{"s":"O","y":10,"w":27,"v":120},{"s":"O","y":10,"w":29,"v":90},{"s":"O","y":10,"w":31,"v":140},{"s":"O","y":10,"w":33,"v":175},{"s":"O","y":10,"w":40,"v":175},{"s":"O","y":10,"w":46,"v":170},{"s":"O","y":10,"w":51,"v":140},
{"s":"O","y":11,"w":0,"v":115},{"s":"O","y":11,"w":3,"v":90},{"s":"O","y":11,"w":6,"v":55},{"s":"O","y":11,"w":8,"v":30},{"s":"O","y":11,"w":10,"v":0},{"s":"O","y":11,"w":20,"v":0},{"s":"O","y":11,"w":22,"v":60},{"s":"O","y":11,"w":24,"v":30},{"s":"O","y":11,"w":26,"v":80},{"s":"O","y":11,"w":28,"v":50},{"s":"O","y":11,"w":30,"v":110},{"s":"O","y":11,"w":33,"v":140},{"s":"O","y":11,"w":36,"v":120},{"s":"O","y":11,"w":39,"v":175},{"s":"O","y":11,"w":51,"v":175},
{"s":"O","y":12,"w":0,"v":110},{"s":"O","y":12,"w":3,"v":85},{"s":"O","y":12,"w":6,"v":50},{"s":"O","y":12,"w":9,"v":15},{"s":"O","y":12,"w":10,"v":0},{"s":"O","y":12,"w":28,"v":0},{"s":"O","y":12,"w":30,"v":20},{"s":"O","y":12,"w":32,"v":0},{"s":"O","y":12,"w":34,"v":30},{"s":"O","y":12,"w":36,"v":50},{"s":"O","y":12,"w":38,"v":40},{"s":"O","y":12,"w":40,"v":90},{"s":"O","y":12,"w":42,"v":120},{"s":"O","y":12,"w":44,"v":175},{"s":"O","y":12,"w":51,"v":170},
{"s":"O","y":13,"w":0,"v":100},{"s":"O","y":13,"w":4,"v":70},{"s":"O","y":13,"w":8,"v":30},{"s":"O","y":13,"w":10,"v":5},{"s":"O","y":13,"w":11,"v":0},{"s":"O","y":13,"w":16,"v":0},{"s":"O","y":13,"w":18,"v":50},{"s":"O","y":13,"w":20,"v":130},{"s":"O","y":13,"w":22,"v":175},{"s":"O","y":13,"w":26,"v":175},{"s":"O","y":13,"w":29,"v":150},{"s":"O","y":13,"w":32,"v":175},{"s":"O","y":13,"w":42,"v":175},{"s":"O","y":13,"w":47,"v":160},{"s":"O","y":13,"w":51,"v":130},
{"s":"O","y":14,"w":0,"v":95},{"s":"O","y":14,"w":3,"v":75},{"s":"O","y":14,"w":6,"v":45},{"s":"O","y":14,"w":9,"v":10},{"s":"O","y":14,"w":10,"v":0},{"s":"O","y":14,"w":23,"v":0},{"s":"O","y":14,"w":25,"v":40},{"s":"O","y":14,"w":27,"v":10},{"s":"O","y":14,"w":29,"v":40},{"s":"O","y":14,"w":31,"v":100},{"s":"O","y":14,"w":33,"v":70},{"s":"O","y":14,"w":35,"v":120},{"s":"O","y":14,"w":38,"v":150},{"s":"O","y":14,"w":40,"v":175},{"s":"O","y":14,"w":51,"v":160},
{"s":"O","y":15,"w":0,"v":155},{"s":"O","y":15,"w":3,"v":145},{"s":"O","y":15,"w":6,"v":130},{"s":"O","y":15,"w":9,"v":90},{"s":"O","y":15,"w":11,"v":40},{"s":"O","y":15,"w":13,"v":10},{"s":"O","y":15,"w":14,"v":0},{"s":"O","y":15,"w":17,"v":0},{"s":"O","y":15,"w":19,"v":80},{"s":"O","y":15,"w":21,"v":175},{"s":"O","y":15,"w":30,"v":175},{"s":"O","y":15,"w":36,"v":175},{"s":"O","y":15,"w":43,"v":175},{"s":"O","y":15,"w":51,"v":155},
{"s":"O","y":16,"w":0,"v":165},{"s":"O","y":16,"w":2,"v":155},{"s":"O","y":16,"w":5,"v":120},{"s":"O","y":16,"w":7,"v":110},{"s":"O","y":16,"w":9,"v":60},{"s":"O","y":16,"w":11,"v":20},{"s":"O","y":16,"w":13,"v":0},{"s":"O","y":16,"w":21,"v":0},{"s":"O","y":16,"w":23,"v":50},{"s":"O","y":16,"w":25,"v":100},{"s":"O","y":16,"w":27,"v":80},{"s":"O","y":16,"w":29,"v":130},{"s":"O","y":16,"w":31,"v":175},{"s":"O","y":16,"w":37,"v":175},{"s":"O","y":16,"w":40,"v":155},{"s":"O","y":16,"w":43,"v":175},{"s":"O","y":16,"w":51,"v":145},
{"s":"O","y":17,"w":0,"v":90},{"s":"O","y":17,"w":3,"v":70},{"s":"O","y":17,"w":6,"v":40},{"s":"O","y":17,"w":8,"v":15},{"s":"O","y":17,"w":9,"v":0},{"s":"O","y":17,"w":30,"v":0},{"s":"O","y":17,"w":32,"v":25},{"s":"O","y":17,"w":34,"v":10},{"s":"O","y":17,"w":36,"v":40},{"s":"O","y":17,"w":38,"v":70},{"s":"O","y":17,"w":40,"v":55},{"s":"O","y":17,"w":42,"v":100},{"s":"O","y":17,"w":44,"v":140},{"s":"O","y":17,"w":46,"v":175},{"s":"O","y":17,"w":51,"v":165},
{"s":"O","y":18,"w":0,"v":150},{"s":"O","y":18,"w":3,"v":135},{"s":"O","y":18,"w":5,"v":140},{"s":"O","y":18,"w":7,"v":100},{"s":"O","y":18,"w":10,"v":40},{"s":"O","y":18,"w":12,"v":10},{"s":"O","y":18,"w":13,"v":0},{"s":"O","y":18,"w":18,"v":0},{"s":"O","y":18,"w":20,"v":30},{"s":"O","y":18,"w":22,"v":90},{"s":"O","y":18,"w":24,"v":60},{"s":"O","y":18,"w":26,"v":110},{"s":"O","y":18,"w":28,"v":140},{"s":"O","y":18,"w":30,"v":120},{"s":"O","y":18,"w":32,"v":160},{"s":"O","y":18,"w":34,"v":175},{"s":"O","y":18,"w":48,"v":175},{"s":"O","y":18,"w":51,"v":150},
{"s":"O","y":19,"w":0,"v":160},{"s":"O","y":19,"w":4,"v":125},{"s":"O","y":19,"w":8,"v":70},{"s":"O","y":19,"w":11,"v":20},{"s":"O","y":19,"w":12,"v":0},{"s":"O","y":19,"w":25,"v":0},{"s":"O","y":19,"w":27,"v":50},{"s":"O","y":19,"w":29,"v":20},{"s":"O","y":19,"w":31,"v":70},{"s":"O","y":19,"w":33,"v":50},{"s":"O","y":19,"w":35,"v":100},{"s":"O","y":19,"w":37,"v":140},{"s":"O","y":19,"w":39,"v":120},{"s":"O","y":19,"w":41,"v":175},{"s":"O","y":19,"w":51,"v":170},
{"s":"O","y":20,"w":0,"v":170},{"s":"O","y":20,"w":3,"v":150},{"s":"O","y":20,"w":5,"v":120},{"s":"O","y":20,"w":8,"v":80},{"s":"O","y":20,"w":10,"v":40},{"s":"O","y":20,"w":12,"v":10},{"s":"O","y":20,"w":13,"v":0},{"s":"O","y":20,"w":19,"v":0},{"s":"O","y":20,"w":21,"v":70},{"s":"O","y":20,"w":23,"v":130},{"s":"O","y":20,"w":25,"v":175},{"s":"O","y":20,"w":30,"v":175},{"s":"O","y":20,"w":33,"v":150},{"s":"O","y":20,"w":36,"v":175},{"s":"O","y":20,"w":51,"v":170},
{"s":"O","y":21,"w":0,"v":140},{"s":"O","y":21,"w":3,"v":115},{"s":"O","y":21,"w":6,"v":80},{"s":"O","y":21,"w":9,"v":35},{"s":"O","y":21,"w":11,"v":0},{"s":"O","y":21,"w":27,"v":0},{"s":"O","y":21,"w":29,"v":40},{"s":"O","y":21,"w":31,"v":20},{"s":"O","y":21,"w":33,"v":60},{"s":"O","y":21,"w":35,"v":30},{"s":"O","y":21,"w":37,"v":70},{"s":"O","y":21,"w":39,"v":110},{"s":"O","y":21,"w":41,"v":90},{"s":"O","y":21,"w":43,"v":140},{"s":"O","y":21,"w":45,"v":175},{"s":"O","y":21,"w":51,"v":160},
{"s":"O","y":22,"w":0,"v":128},{"s":"O","y":22,"w":4,"v":95},{"s":"O","y":22,"w":7,"v":60},{"s":"O","y":22,"w":10,"v":15},{"s":"O","y":22,"w":11,"v":0},{"s":"O","y":22,"w":17,"v":0},{"s":"O","y":22,"w":19,"v":60},{"s":"O","y":22,"w":21,"v":120},{"s":"O","y":22,"w":23,"v":170},{"s":"O","y":22,"w":25,"v":140},{"s":"O","y":22,"w":27,"v":175},{"s":"O","y":22,"w":35,"v":175},{"s":"O","y":22,"w":38,"v":160},{"s":"O","y":22,"w":41,"v":175},{"s":"O","y":22,"w":51,"v":150},
{"s":"O","y":23,"w":0,"v":105},{"s":"O","y":23,"w":3,"v":85},{"s":"O","y":23,"w":6,"v":55},{"s":"O","y":23,"w":9,"v":20},{"s":"O","y":23,"w":10,"v":0},{"s":"O","y":23,"w":31,"v":0},{"s":"O","y":23,"w":33,"v":30},{"s":"O","y":23,"w":35,"v":15},{"s":"O","y":23,"w":37,"v":50},{"s":"O","y":23,"w":39,"v":80},{"s":"O","y":23,"w":41,"v":60},{"s":"O","y":23,"w":43,"v":110},{"s":"O","y":23,"w":45,"v":150},{"s":"O","y":23,"w":47,"v":175},{"s":"O","y":23,"w":51,"v":175},
{"s":"O","y":24,"w":0,"v":162},{"s":"O","y":24,"w":3,"v":140},{"s":"O","y":24,"w":6,"v":110},{"s":"O","y":24,"w":9,"v":70},{"s":"O","y":24,"w":11,"v":30},{"s":"O","y":24,"w":13,"v":5},{"s":"O","y":24,"w":14,"v":0},{"s":"O","y":24,"w":22,"v":0},{"s":"O","y":24,"w":24,"v":60},{"s":"O","y":24,"w":26,"v":30},{"s":"O","y":24,"w":28,"v":80},{"s":"O","y":24,"w":30,"v":60},{"s":"O","y":24,"w":32,"v":120},{"s":"O","y":24,"w":34,"v":100},{"s":"O","y":24,"w":36,"v":150},{"s":"O","y":24,"w":38,"v":175},{"s":"O","y":24,"w":51,"v":165},
{"s":"O","y":25,"w":0,"v":148},{"s":"O","y":25,"w":3,"v":125},{"s":"O","y":25,"w":6,"v":95},{"s":"O","y":25,"w":9,"v":50},{"s":"O","y":25,"w":11,"v":10},{"s":"O","y":25,"w":12,"v":0},{"s":"O","y":25,"w":24,"v":0},{"s":"O","y":25,"w":26,"v":40},{"s":"O","y":25,"w":28,"v":70},{"s":"O","y":25,"w":30,"v":40},{"s":"O","y":25,"w":32,"v":90},{"s":"O","y":25,"w":34,"v":130},{"s":"O","y":25,"w":36,"v":110},{"s":"O","y":25,"w":38,"v":160},{"s":"O","y":25,"w":40,"v":175},{"s":"O","y":25,"w":51,"v":175},
{"s":"O","y":26,"w":0,"v":118},{"s":"O","y":26,"w":3,"v":95},{"s":"O","y":26,"w":6,"v":65},{"s":"O","y":26,"w":9,"v":25},{"s":"O","y":26,"w":10,"v":0},{"s":"O","y":26,"w":14,"v":0},{"s":"O","y":26,"w":16,"v":40},{"s":"O","y":26,"w":18,"v":110},{"s":"O","y":26,"w":20,"v":175},{"s":"O","y":26,"w":27,"v":175},{"s":"O","y":26,"w":30,"v":165},{"s":"O","y":26,"w":33,"v":175},{"s":"O","y":26,"w":47,"v":175},{"s":"O","y":26,"w":51,"v":155},
{"s":"O","y":27,"w":0,"v":135},{"s":"O","y":27,"w":3,"v":120},{"s":"O","y":27,"w":6,"v":90},{"s":"O","y":27,"w":8,"v":70},{"s":"O","y":27,"w":10,"v":30},{"s":"O","y":27,"w":12,"v":0},{"s":"O","y":27,"w":29,"v":0},{"s":"O","y":27,"w":31,"v":30},{"s":"O","y":27,"w":33,"v":10},{"s":"O","y":27,"w":35,"v":50},{"s":"O","y":27,"w":37,"v":30},{"s":"O","y":27,"w":39,"v":80},{"s":"O","y":27,"w":41,"v":120},{"s":"O","y":27,"w":43,"v":100},{"s":"O","y":27,"w":45,"v":160},{"s":"O","y":27,"w":47,"v":175},{"s":"O","y":27,"w":51,"v":170},
{"s":"O","y":28,"w":0,"v":158},{"s":"O","y":28,"w":3,"v":130},{"s":"O","y":28,"w":6,"v":100},{"s":"O","y":28,"w":9,"v":60},{"s":"O","y":28,"w":11,"v":20},{"s":"O","y":28,"w":12,"v":0},{"s":"O","y":28,"w":18,"v":0},{"s":"O","y":28,"w":20,"v":40},{"s":"O","y":28,"w":22,"v":100},{"s":"O","y":28,"w":24,"v":70},{"s":"O","y":28,"w":26,"v":130},{"s":"O","y":28,"w":28,"v":175},{"s":"O","y":28,"w":34,"v":175},{"s":"O","y":28,"w":37,"v":160},{"s":"O","y":28,"w":40,"v":175},{"s":"O","y":28,"w":51,"v":165},
{"s":"O","y":29,"w":0,"v":112},{"s":"O","y":29,"w":4,"v":80},{"s":"O","y":29,"w":7,"v":45},{"s":"O","y":29,"w":9,"v":15},{"s":"O","y":29,"w":10,"v":0},{"s":"O","y":29,"w":21,"v":0},{"s":"O","y":29,"w":23,"v":20},{"s":"O","y":29,"w":25,"v":60},{"s":"O","y":29,"w":27,"v":40},{"s":"O","y":29,"w":29,"v":90},{"s":"O","y":29,"w":31,"v":60},{"s":"O","y":29,"w":33,"v":110},{"s":"O","y":29,"w":35,"v":90},{"s":"O","y":29,"w":37,"v":140},{"s":"O","y":29,"w":39,"v":175},{"s":"O","y":29,"w":51,"v":170},
{"s":"O","y":30,"w":0,"v":142},{"s":"O","y":30,"w":3,"v":120},{"s":"O","y":30,"w":6,"v":90},{"s":"O","y":30,"w":9,"v":45},{"s":"O","y":30,"w":11,"v":5},{"s":"O","y":30,"w":12,"v":0},{"s":"O","y":30,"w":16,"v":0},{"s":"O","y":30,"w":18,"v":20},{"s":"O","y":30,"w":20,"v":90},{"s":"O","y":30,"w":22,"v":150},{"s":"O","y":30,"w":24,"v":175},{"s":"O","y":30,"w":32,"v":175},{"s":"O","y":30,"w":35,"v":160},{"s":"O","y":30,"w":38,"v":175},{"s":"O","y":30,"w":45,"v":175},{"s":"O","y":30,"w":49,"v":160},{"s":"O","y":30,"w":51,"v":145},
{"s":"Y1","y":1,"w":0,"v":57},{"s":"Y1","y":1,"w":2,"v":50},{"s":"Y1","y":1,"w":4,"v":42},{"s":"Y1","y":1,"w":6,"v":28},{"s":"Y1","y":1,"w":8,"v":20},{"s":"Y1","y":1,"w":10,"v":14},{"s":"Y1","y":1,"w":12,"v":13},{"s":"Y1","y":1,"w":14,"v":16},{"s":"Y1","y":1,"w":15,"v":10},{"s":"Y1","y":1,"w":16,"v":5},{"s":"Y1","y":1,"w":17,"v":2},{"s":"Y1","y":1,"w":18,"v":15},{"s":"Y1","y":1,"w":19,"v":40},{"s":"Y1","y":1,"w":20,"v":64},{"s":"Y1","y":1,"w":21,"v":95},{"s":"Y1","y":1,"w":22,"v":113},{"s":"Y1","y":1,"w":24,"v":130},{"s":"Y1","y":1,"w":25,"v":160},{"s":"Y1","y":1,"w":26,"v":172},{"s":"Y1","y":1,"w":29,"v":175},{"s":"Y1","y":1,"w":31,"v":170},{"s":"Y1","y":1,"w":33,"v":155},{"s":"Y1","y":1,"w":34,"v":130},{"s":"Y1","y":1,"w":35,"v":105},{"s":"Y1","y":1,"w":36,"v":84},{"s":"Y1","y":1,"w":37,"v":100},{"s":"Y1","y":1,"w":38,"v":109},{"s":"Y1","y":1,"w":39,"v":100},{"s":"Y1","y":1,"w":40,"v":97},{"s":"Y1","y":1,"w":41,"v":115},{"s":"Y1","y":1,"w":42,"v":140},{"s":"Y1","y":1,"w":43,"v":175},{"s":"Y1","y":1,"w":47,"v":175},{"s":"Y1","y":1,"w":49,"v":170},{"s":"Y1","y":1,"w":51,"v":168},
{"s":"Y35","y":35,"w":0,"v":120},{"s":"Y35","y":35,"w":2,"v":110},{"s":"Y35","y":35,"w":4,"v":95},{"s":"Y35","y":35,"w":6,"v":75},{"s":"Y35","y":35,"w":8,"v":55},{"s":"Y35","y":35,"w":10,"v":35},{"s":"Y35","y":35,"w":12,"v":15},{"s":"Y35","y":35,"w":14,"v":5},{"s":"Y35","y":35,"w":15,"v":10},{"s":"Y35","y":35,"w":16,"v":27},{"s":"Y35","y":35,"w":17,"v":65},{"s":"Y35","y":35,"w":18,"v":100},{"s":"Y35","y":35,"w":19,"v":140},{"s":"Y35","y":35,"w":20,"v":165},{"s":"Y35","y":35,"w":21,"v":175},{"s":"Y35","y":35,"w":23,"v":162},{"s":"Y35","y":35,"w":25,"v":172},{"s":"Y35","y":35,"w":30,"v":175},{"s":"Y35","y":35,"w":35,"v":175},{"s":"Y35","y":35,"w":36,"v":168},{"s":"Y35","y":35,"w":38,"v":125},{"s":"Y35","y":35,"w":40,"v":113},{"s":"Y35","y":35,"w":42,"v":115},{"s":"Y35","y":35,"w":43,"v":130},{"s":"Y35","y":35,"w":45,"v":121},{"s":"Y35","y":35,"w":47,"v":109},{"s":"Y35","y":35,"w":49,"v":92},{"s":"Y35","y":35,"w":51,"v":80},
{"s":"A","y":0,"w":0,"v":133},{"s":"A","y":0,"w":2,"v":112},{"s":"A","y":0,"w":4,"v":90},{"s":"A","y":0,"w":5,"v":78},{"s":"A","y":0,"w":6,"v":67},{"s":"A","y":0,"w":8,"v":45},{"s":"A","y":0,"w":10,"v":22},{"s":"A","y":0,"w":11,"v":14},{"s":"A","y":0,"w":12,"v":8},{"s":"A","y":0,"w":13,"v":3},{"s":"A","y":0,"w":14,"v":3},{"s":"A","y":0,"w":15,"v":10},{"s":"A","y":0,"w":16,"v":20},{"s":"A","y":0,"w":17,"v":33},{"s":"A","y":0,"w":18,"v":50},{"s":"A","y":0,"w":19,"v":68},{"s":"A","y":0,"w":20,"v":82},{"s":"A","y":0,"w":21,"v":95},{"s":"A","y":0,"w":22,"v":100},{"s":"A","y":0,"w":23,"v":103},{"s":"A","y":0,"w":25,"v":108},{"s":"A","y":0,"w":27,"v":113},{"s":"A","y":0,"w":29,"v":118},{"s":"A","y":0,"w":31,"v":122},{"s":"A","y":0,"w":33,"v":128},{"s":"A","y":0,"w":35,"v":135},{"s":"A","y":0,"w":37,"v":140},{"s":"A","y":0,"w":39,"v":145},{"s":"A","y":0,"w":41,"v":152},{"s":"A","y":0,"w":43,"v":160},{"s":"A","y":0,"w":44,"v":168},{"s":"A","y":0,"w":45,"v":168},{"s":"A","y":0,"w":46,"v":160},{"s":"A","y":0,"w":47,"v":152},{"s":"A","y":0,"w":48,"v":146},{"s":"A","y":0,"w":49,"v":138},{"s":"A","y":0,"w":50,"v":135},{"s":"A","y":0,"w":51,"v":136}
]
},
"spacing": 13,
"resolve": {"scale": {"color": "independent", "strokeDash": "independent"}, "legend": {"color": "independent", "strokeDash": "independent"}},
"hconcat": [
{
 "title": "North",
 "width": 280, "height": 261,
 "data": {"name": "north"},
 "encoding": {
  "x": {"field": "w", "type": "quantitative", "scale": {"domain": [-2.55, 53.55], "nice": false, "zero": false}, "axis": {"values": [0,10,20,30,40,50], "title": "Week"}},
  "y": {"field": "v", "type": "quantitative", "scale": {"domain": [-29.25, 614.25], "nice": false, "zero": false}, "axis": {"values": [0,100,200,300,400,500,600], "title": "GWh"}},
  "detail": {"field": "y", "type": "nominal"},
  "color": {"field": "s", "type": "nominal", "scale": {"domain": ["Y1","Y35","O","A"], "range": ["#4b0082","#8b0000","#1f77b4","#000000"]},
    "legend": {"title": null, "orient": "none", "legendX": 140, "legendY": 167, "labelExpr": "datum.label == 'Y1' ? 'Year 1' : datum.label == 'Y35' ? 'Year 35' : datum.label == 'O' ? 'Other years' : 'Avg'", "encode": {"symbols": {"update": {"strokeWidth": {"signal": "datum.value == 'A' ? 2.8 : 2.1"}}}}}},
  "strokeDash": {"field": "s", "type": "nominal", "scale": {"domain": ["Y1","Y35","O","A"], "range": [[7.7,3.3],[7.7,3.3],[1,0],[1,0]]},
    "legend": {"title": null, "orient": "none", "legendX": 140, "legendY": 167, "labelExpr": "datum.label == 'Y1' ? 'Year 1' : datum.label == 'Y35' ? 'Year 35' : datum.label == 'O' ? 'Other years' : 'Avg'", "encode": {"symbols": {"update": {"strokeWidth": {"signal": "datum.value == 'A' ? 2.8 : 2.1"}}}}}}
 },
 "layer": [
  {"transform": [{"filter": "datum.s == 'O'"}], "mark": {"type": "line", "strokeWidth": 2.1, "strokeJoin": "round"}},
  {"transform": [{"filter": "datum.s == 'Y1'"}], "mark": {"type": "line", "strokeWidth": 2.1}},
  {"transform": [{"filter": "datum.s == 'Y35'"}], "mark": {"type": "line", "strokeWidth": 2.1}},
  {"transform": [{"filter": "datum.s == 'A'"}], "mark": {"type": "line", "strokeWidth": 2.8, "strokeJoin": "round"}}
 ]
},
{
 "title": "South",
 "width": 280, "height": 261,
 "data": {"name": "south"},
 "encoding": {
  "x": {"field": "w", "type": "quantitative", "scale": {"domain": [-2.55, 53.55], "nice": false, "zero": false}, "axis": {"values": [0,10,20,30,40,50], "title": "Week"}},
  "y": {"field": "v", "type": "quantitative", "scale": {"domain": [-29.25, 614.25], "nice": false, "zero": false}, "axis": {"values": [0,100,200,300,400,500,600], "title": null, "labels": false}},
  "detail": {"field": "y", "type": "nominal"},
  "color": {"field": "s", "type": "nominal", "scale": {"domain": ["Y1","Y35","O","A"], "range": ["#4b0082","#8b0000","#ff7f0e","#000000"]},
    "legend": {"title": null, "orient": "none", "legendX": 141, "legendY": 7, "labelExpr": "datum.label == 'Y1' ? 'Year 1' : datum.label == 'Y35' ? 'Year 35' : datum.label == 'O' ? 'Other years' : 'Avg'", "encode": {"symbols": {"update": {"strokeWidth": {"signal": "datum.value == 'A' ? 2.8 : 2.1"}}}}}},
  "strokeDash": {"field": "s", "type": "nominal", "scale": {"domain": ["Y1","Y35","O","A"], "range": [[7.7,3.3],[7.7,3.3],[1,0],[1,0]]},
    "legend": {"title": null, "orient": "none", "legendX": 141, "legendY": 7, "labelExpr": "datum.label == 'Y1' ? 'Year 1' : datum.label == 'Y35' ? 'Year 35' : datum.label == 'O' ? 'Other years' : 'Avg'", "encode": {"symbols": {"update": {"strokeWidth": {"signal": "datum.value == 'A' ? 2.8 : 2.1"}}}}}}
 },
 "layer": [
  {"transform": [{"filter": "datum.s == 'O'"}], "mark": {"type": "line", "strokeWidth": 2.1, "strokeJoin": "round"}},
  {"transform": [{"filter": "datum.s == 'Y1'"}], "mark": {"type": "line", "strokeWidth": 2.1}},
  {"transform": [{"filter": "datum.s == 'Y35'"}], "mark": {"type": "line", "strokeWidth": 2.1}},
  {"transform": [{"filter": "datum.s == 'A'"}], "mark": {"type": "line", "strokeWidth": 2.8, "strokeJoin": "round"}}
 ]
}
]
}
